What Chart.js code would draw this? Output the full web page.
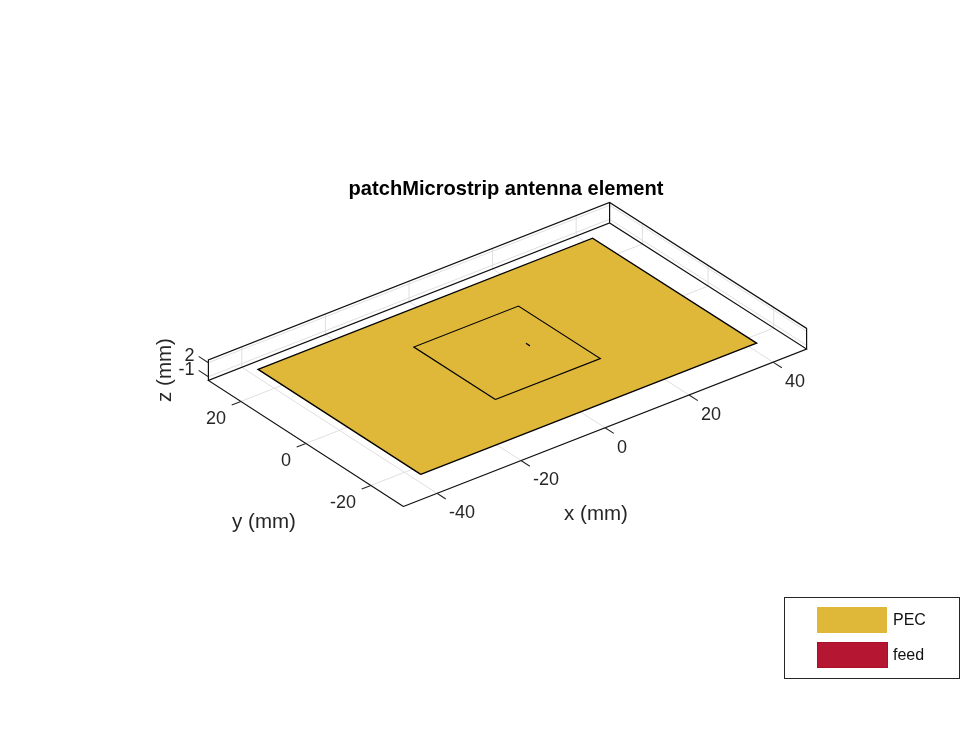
<!DOCTYPE html>
<html>
<head>
<meta charset="utf-8">
<style>
  html, body { margin: 0; padding: 0; background: #fff; }
  canvas { display: block; }
</style>
<script src="https://cdn.jsdelivr.net/npm/chart.js@4"></script>
</head>
<body>
<canvas id="antenna" width="980" height="735"></canvas>
<script>
// all lengths in mm
const xTicks = [-40, -20, 0, 20, 40];
const yTicks = [-20, 0, 20];
const zTicks = [-1, 2];
const xLim = [-48, 48];
const yLim = [-30, 30];
const zLim = [-1.8, 2.6];

const boardX = [-40, 40, 40, -40, -40];
const boardY = [-25, -25, 25, 25, -25];
const boardZ = 0;
const patchX = [-12.5, 12.5, 12.5, -12.5, -12.5];
const patchY = [-12.5, -12.5, 12.5, 12.5, -12.5];
const patchZ = 0.75;
const feedX = [5, 5];
const feedY = [-0.6, 0.6];

const legendNames = ['PEC', 'feed'];
const pecColor = '#dfb83a';
const feedColor = '#b51632';
const axisColor = '#262626';
const gridColor = '#dfdfdf';

// fixed view of the MATLAB axes: mm -> screen units
// the far corner sits about 2px left of a true parallelogram, hence the xy term
function proj(x, y, z) {
    return {
        x: 507.5 + 4.2 * x - 3.25 * y - 2 * (x + 48) * (y + 30) / 5760,
        y: 356.3 - 1.64 * x - 2.1 * y - 4.67 * z
    };
}

function polyline(xs, ys, z) {
    return xs.map((x, i) => proj(x, ys[i], z));
}

const gap = { x: NaN, y: NaN };

// grid on the floor and the two back walls
const gridPts = [];
xTicks.forEach(x => {
    gridPts.push(proj(x, yLim[0], zLim[0]), proj(x, yLim[1], zLim[0]), proj(x, yLim[1], zLim[1]), gap);
});
yTicks.forEach(y => {
    gridPts.push(proj(xLim[0], y, zLim[0]), proj(xLim[1], y, zLim[0]), proj(xLim[1], y, zLim[1]), gap);
});
zTicks.forEach(z => {
    gridPts.push(proj(xLim[0], yLim[1], z), proj(xLim[1], yLim[1], z), proj(xLim[1], yLim[0], z), gap);
});

// floor outline, back wall top and the verticals
const boxPts = [
    proj(xLim[0], yLim[0], zLim[0]), proj(xLim[1], yLim[0], zLim[0]),
    proj(xLim[1], yLim[1], zLim[0]), proj(xLim[0], yLim[1], zLim[0]),
    proj(xLim[0], yLim[0], zLim[0]), gap,
    proj(xLim[0], yLim[1], zLim[0]), proj(xLim[0], yLim[1], zLim[1]),
    proj(xLim[1], yLim[1], zLim[1]), proj(xLim[1], yLim[0], zLim[1]),
    proj(xLim[1], yLim[0], zLim[0]), gap,
    proj(xLim[1], yLim[1], zLim[0]), proj(xLim[1], yLim[1], zLim[1])
];

const tickPts = [];
xTicks.forEach(x => tickPts.push(proj(x, yLim[0], zLim[0]), proj(x, yLim[0] - 2.7, zLim[0]), gap));
yTicks.forEach(y => tickPts.push(proj(xLim[0], y, zLim[0]), proj(xLim[0] - 2.2, y, zLim[0]), gap));
zTicks.forEach(z => tickPts.push(proj(xLim[0], yLim[1], z), proj(xLim[0], yLim[1] + 3, z), gap));

function lineSet(label, data, color, width, extra) {
    return Object.assign({
        label: label,
        data: data,
        showLine: true,
        borderColor: color,
        borderWidth: width,
        pointRadius: 0,
        fill: false,
        tension: 0
    }, extra || {});
}

// tick labels, axis labels and the legend box
const textPlugin = {
    id: 'axesText',
    afterDraw(chart) {
        const c = chart.ctx;
        const sx = chart.scales.x;
        const sy = chart.scales.y;
        const put = (text, pt, dx, dy, align) => {
            c.textAlign = align;
            c.fillText(text, sx.getPixelForValue(pt.x) + dx, sy.getPixelForValue(pt.y) + dy);
        };
        c.save();
        c.fillStyle = axisColor;
        c.textBaseline = 'middle';
        c.font = '18px "Liberation Sans"';
        xTicks.forEach(x => put(String(x), proj(x, yLim[0], zLim[0]), 12, 20, 'left'));
        yTicks.forEach(y => put(String(y), proj(xLim[0], y, zLim[0]), -15, 18, 'right'));
        zTicks.forEach(z => put(String(z), proj(xLim[0], yLim[1], z), -14, -6.5, 'right'));

        c.font = '20.5px "Liberation Sans"';
        c.textAlign = 'center';
        c.fillText('x (mm)', 596, 514);
        c.fillText('y (mm)', 264, 522);
        c.save();
        c.translate(165, 370);
        c.rotate(-Math.PI / 2);
        c.fillText('z (mm)', 0, 0);
        c.restore();

        c.fillStyle = '#fff';
        c.strokeStyle = axisColor;
        c.lineWidth = 1;
        c.fillRect(784.5, 597.5, 175, 81);
        c.strokeRect(784.5, 597.5, 175, 81);
        c.fillStyle = pecColor;
        c.fillRect(817, 607, 70, 26);
        c.fillStyle = feedColor;
        c.strokeStyle = '#a8102a';
        c.fillRect(817.5, 642.5, 70, 25);
        c.strokeRect(817.5, 642.5, 70, 25);
        c.fillStyle = '#111';
        c.textAlign = 'left';
        c.font = '16px "Liberation Sans"';
        c.fillText(legendNames[0], 893, 621);
        c.fillText(legendNames[1], 893, 656);
        c.restore();
    }
};

new Chart(document.getElementById('antenna').getContext('2d'), {
    type: 'scatter',
    data: {
        datasets: [
            lineSet('feed', polyline(feedX, feedY, patchZ), '#000', 1.2, { backgroundColor: feedColor }),
            lineSet('patch', polyline(patchX, patchY, patchZ), '#000', 1.2),
            lineSet('PEC', polyline(boardX, boardY, boardZ), '#000', 1.4, { fill: 'shape', backgroundColor: pecColor }),
            lineSet('ticks', tickPts, axisColor, 1.1),
            lineSet('box', boxPts, '#111', 1.2),
            lineSet('grid', gridPts, gridColor, 1)
        ]
    },
    options: {
        responsive: false,
        animation: false,
        events: [],
        layout: { padding: { left: 32 } },
        scales: {
            x: { type: 'linear', display: false, min: 32, max: 980 },
            y: { type: 'linear', display: false, min: 201, max: 735, reverse: true }
        },
        plugins: {
            legend: { display: false },
            tooltip: { enabled: false },
            title: {
                display: true,
                text: 'patchMicrostrip antenna element',
                fullSize: false,
                color: '#000',
                font: { family: '"Liberation Sans"', size: 20.1, weight: 'bold', lineHeight: 1.2 },
                padding: { top: 176.9, bottom: 0 }
            }
        }
    },
    plugins: [textPlugin]
});
</script>
</body>
</html>
